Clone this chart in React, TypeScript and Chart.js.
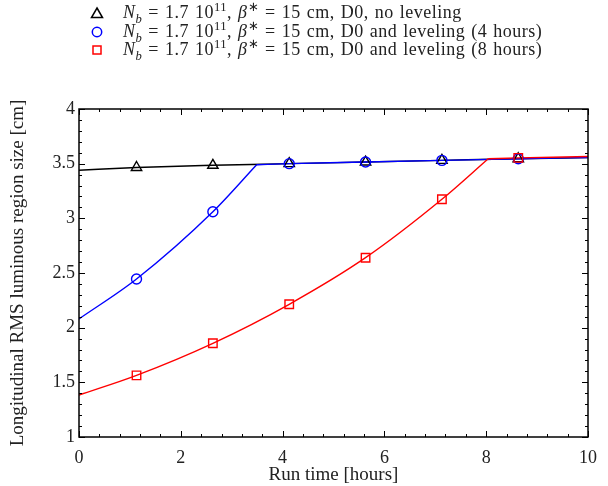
import React, { useEffect, useRef } from "react";
import { Chart, registerables } from "chart.js";

Chart.register(...registerables);

// ---- data ----
const xTickValues = [0, 2, 4, 6, 8, 10];
const yTickValues = [1, 1.5, 2, 2.5, 3, 3.5, 4];

const blackLineX = [0, 1.13, 2.63, 4.13, 5.63, 7.13, 8.63, 10];
const blackLineY = [3.44, 3.465, 3.485, 3.5, 3.515, 3.53, 3.545, 3.555];

const blueRiseX = [0, 1.13, 2.63, 3.49];
const blueRiseY = [2.08, 2.445, 3.06, 3.49];
const blueFlatX = [3.49, 4.13, 5.63, 7.13, 8.63, 10];
const blueFlatY = [3.49, 3.5, 3.515, 3.53, 3.545, 3.557];

const redRiseX = [0, 1.13, 2.63, 4.13, 5.63, 7.13, 8.04];
const redRiseY = [1.384, 1.564, 1.857, 2.214, 2.64, 3.174, 3.545];
const redFlatX = [8.04, 8.63, 10];
const redFlatY = [3.545, 3.553, 3.565];

const markerX = [1.13, 2.63, 4.13, 5.63, 7.13, 8.63];
const blackMarkerY = [3.465, 3.485, 3.5, 3.515, 3.53, 3.545];
const blueMarkerY = [2.445, 3.06, 3.5, 3.515, 3.53, 3.545];
const redMarkerY = [1.564, 1.857, 2.214, 2.64, 3.174, 3.553];

const legendItems = [
  { marker: "triangle", color: "#000000", tail: "D0, no leveling" },
  { marker: "circle", color: "#0000ff", tail: "D0 and leveling (4 hours)" },
  { marker: "square", color: "#ff0000", tail: "D0 and leveling (8 hours)" },
];

const xTitle = "Run time [hours]";
const yTitle = "Longitudinal RMS luminous region size [cm]";

const FONT = "'Liberation Serif', serif";

const pts = (xs: number[], ys: number[]) => xs.map((x, i) => ({ x, y: ys[i] }));

const framePlugin = {
  id: "frame",
  afterDraw(chart: any) {
    const { ctx, chartArea: a } = chart;
    const xs = chart.scales.x;
    const ys = chart.scales.y;
    ctx.save();
    ctx.strokeStyle = "#000";
    ctx.lineWidth = 1;
    const seg = (x1: number, y1: number, x2: number, y2: number) => {
      ctx.beginPath();
      ctx.moveTo(x1, y1);
      ctx.lineTo(x2, y2);
      ctx.stroke();
    };
    // x ticks: minor every 0.4, major every 2
    for (let i = 0; i <= 25; i++) {
      const v = i * 0.4;
      const px = Math.round(xs.getPixelForValue(v)) + 0.5;
      const L = i % 5 === 0 ? 6 : 3;
      seg(px, a.bottom, px, a.bottom - L);
      seg(px, a.top, px, a.top + L);
    }
    // y ticks: minor every 0.1, major every 0.5
    for (let i = 0; i <= 30; i++) {
      const v = 1 + i * 0.1;
      const py = Math.round(ys.getPixelForValue(v)) + 0.5;
      const L = i % 5 === 0 ? 6 : 3;
      seg(a.left, py, a.left + L, py);
      seg(a.right, py, a.right - L, py);
    }
    ctx.lineWidth = 1.5;
    ctx.strokeRect(a.left, a.top, a.right - a.left, a.bottom - a.top);
    ctx.restore();
  },
};

function Marker({ kind, color }: { kind: string; color: string }) {
  return (
    <svg width="14" height="14" style={{ position: "absolute", left: 90, top: 3 }}>
      {kind === "triangle" && (
        <polygon points="7,2 12.5,11.5 1.5,11.5" fill="none" stroke={color} strokeWidth="1.5" />
      )}
      {kind === "circle" && <circle cx="7" cy="7" r="4.7" fill="none" stroke={color} strokeWidth="1.5" />}
      {kind === "square" && <rect x="3" y="3" width="8" height="8" fill="none" stroke={color} strokeWidth="1.5" />}
    </svg>
  );
}

export default function App() {
  const ref = useRef<HTMLCanvasElement | null>(null);

  useEffect(() => {
    if (!ref.current) return;
    const lineDs = (label: string, xs: number[], ys: number[], color: string) => ({
      type: "line" as const,
      label,
      data: pts(xs, ys),
      borderColor: color,
      backgroundColor: color,
      borderWidth: 1.4,
      pointRadius: 0,
      fill: false,
      cubicInterpolationMode: "monotone" as const,
    });
    const markDs = (label: string, ys: number[], color: string, style: string, r: number) => ({
      type: "line" as const,
      label,
      data: pts(markerX, ys),
      showLine: false,
      borderColor: color,
      backgroundColor: "rgba(0,0,0,0)",
      pointStyle: style,
      pointRadius: r,
      pointBorderWidth: 1.4,
      pointBorderColor: color,
      pointBackgroundColor: "rgba(0,0,0,0)",
    });
    const chart = new Chart(ref.current, {
      type: "line",
      data: {
        datasets: [
          markDs("red markers", redMarkerY, "#ff0000", "rect", 6),
          markDs("blue markers", blueMarkerY, "#0000ff", "circle", 5),
          markDs("black markers", blackMarkerY, "#000000", "triangle", 6),
          lineDs("red flat", redFlatX, redFlatY, "#ff0000"),
          lineDs("red rise", redRiseX, redRiseY, "#ff0000"),
          lineDs("blue flat", blueFlatX, blueFlatY, "#0000ff"),
          lineDs("blue rise", blueRiseX, blueRiseY, "#0000ff"),
          lineDs("black", blackLineX, blackLineY, "#000000"),
        ] as any,
      },
      options: {
        animation: false,
        responsive: false,
        maintainAspectRatio: false,
        layout: { padding: { top: 109, right: 20, left: 0, bottom: 0 } },
        plugins: { legend: { display: false }, tooltip: { enabled: false } },
        scales: {
          x: {
            type: "linear",
            min: 0,
            max: 10,
            grid: { display: false, drawTicks: false },
            border: { display: false },
            afterBuildTicks: (s: any) => {
              s.ticks = xTickValues.map((v) => ({ value: v }));
            },
            afterFit: (s: any) => {
              s.height = 49;
            },
            ticks: {
              color: "#222",
              font: { family: FONT, size: 18 },
              padding: 10,
              maxRotation: 0,
              callback: (v: any) => String(v),
            },
            title: {
              display: true,
              text: xTitle,
              color: "#222",
              font: { family: FONT, size: 19 },
              padding: { top: 0, bottom: 0 },
            },
          },
          y: {
            type: "linear",
            min: 1,
            max: 4,
            grid: { display: false, drawTicks: false },
            border: { display: false },
            afterBuildTicks: (s: any) => {
              s.ticks = yTickValues.map((v) => ({ value: v }));
            },
            afterFit: (s: any) => {
              s.width = 79;
            },
            ticks: {
              color: "#222",
              font: { family: FONT, size: 18 },
              padding: 4,
              callback: (v: any) => String(v),
            },
            title: {
              display: true,
              text: yTitle,
              color: "#222",
              font: { family: FONT, size: 19 },
              padding: { top: 7, bottom: 0 },
            },
          },
        },
      },
      plugins: [framePlugin],
    });
    return () => chart.destroy();
  }, []);

  const supStyle = { fontSize: "0.7em", lineHeight: 0 } as const;

  return (
    <div style={{ position: "fixed", left: 0, top: 0, width: 608, height: 486, background: "#fff" }}>
      <canvas ref={ref} width={608} height={486} style={{ position: "absolute", left: 0, top: 0 }} />
      <div
        style={{
          position: "absolute",
          left: 0,
          top: 3,
          fontFamily: FONT,
          fontSize: 18,
          letterSpacing: "0.5px",
          wordSpacing: "1px",
          color: "#222",
        }}
      >
        {legendItems.map((it, i) => (
          <div key={i} style={{ position: "relative", height: 18.7, lineHeight: "18.7px", whiteSpace: "nowrap" }}>
            <Marker kind={it.marker} color={it.color} />
            <span style={{ position: "absolute", left: 123, top: 0 }}>
              <i>N</i>
              <sub style={supStyle}>
                <i>b</i>
              </sub>{" "}
              = 1.7 10
              <sup style={supStyle}>11</sup>, <i>β</i>
              <sup style={supStyle}>∗</sup> = 15 cm, {it.tail}
            </span>
          </div>
        ))}
      </div>
    </div>
  );
}
